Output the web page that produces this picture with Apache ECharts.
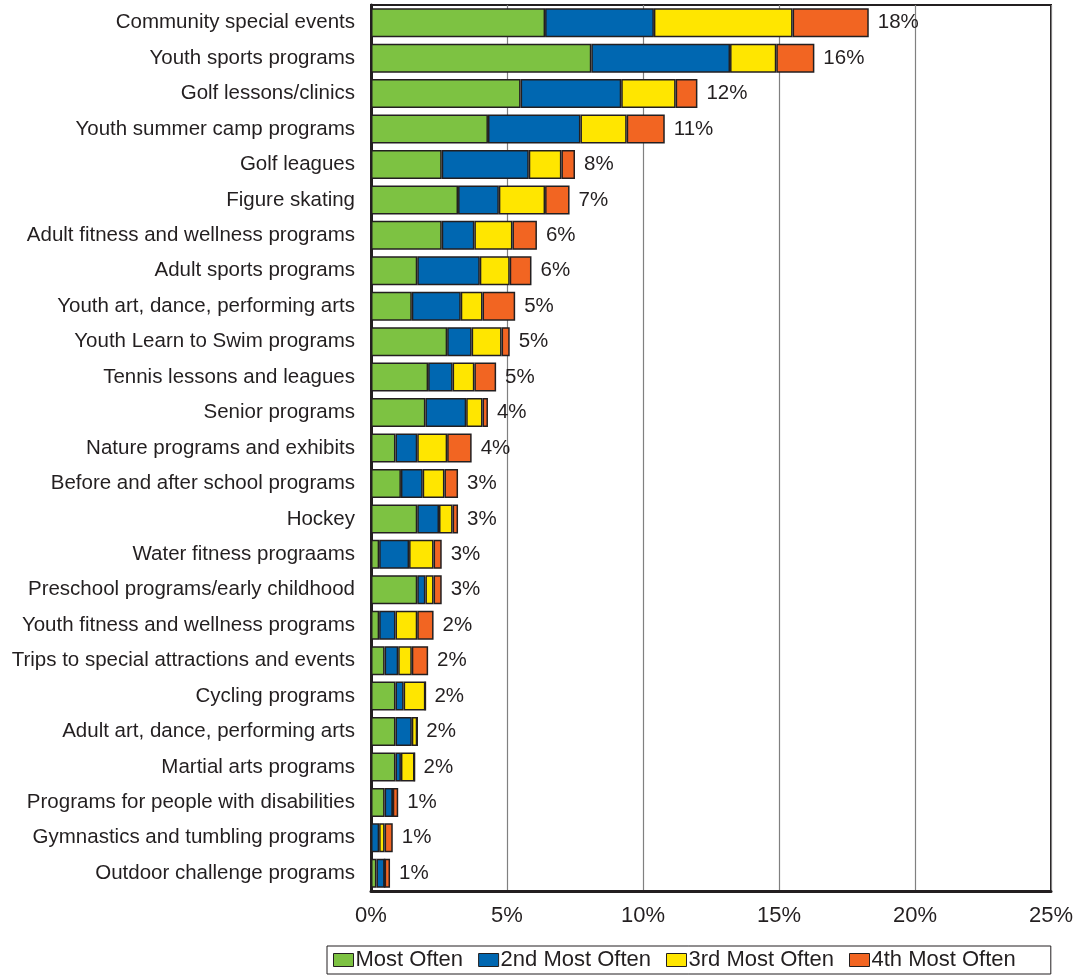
<!DOCTYPE html>
<html>
<head>
<meta charset="utf-8">
<script src="https://cdn.jsdelivr.net/npm/echarts@6/dist/echarts.min.js"></script>
<style>
html,body{margin:0;padding:0;background:#fff;}
#chart{width:1079px;height:980px;}
</style>
</head>
<body>
<div id="chart"></div>
<script>
const categories = [
  "Community special events",
  "Youth sports programs",
  "Golf lessons/clinics",
  "Youth summer camp programs",
  "Golf leagues",
  "Figure skating",
  "Adult fitness and wellness programs",
  "Adult sports programs",
  "Youth art, dance, performing arts",
  "Youth Learn to Swim programs",
  "Tennis lessons and leagues",
  "Senior programs",
  "Nature programs and exhibits",
  "Before and after school programs",
  "Hockey",
  "Water fitness prograams",
  "Preschool programs/early childhood",
  "Youth fitness and wellness programs",
  "Trips to special attractions and events",
  "Cycling programs",
  "Adult art, dance, performing arts",
  "Martial arts programs",
  "Programs for people with disabilities",
  "Gymnastics and tumbling programs",
  "Outdoor challenge programs"
];
const mostOften   = [6.4, 8.1, 5.5, 4.3, 2.6, 3.2, 2.6, 1.7, 1.5, 2.8, 2.1, 2.0, 0.9, 1.1, 1.7, 0.3, 1.7, 0.3, 0.5, 0.9, 0.9, 0.9, 0.5, 0.0, 0.2];
const second      = [4.0, 5.1, 3.7, 3.4, 3.2, 1.5, 1.2, 2.3, 1.8, 0.9, 0.9, 1.5, 0.8, 0.8, 0.8, 1.1, 0.3, 0.6, 0.5, 0.3, 0.6, 0.2, 0.3, 0.3, 0.3];
const third       = [5.1, 1.7, 2.0, 1.7, 1.2, 1.7, 1.4, 1.1, 0.8, 1.1, 0.8, 0.6, 1.1, 0.8, 0.5, 0.9, 0.3, 0.8, 0.5, 0.8, 0.2, 0.5, 0.0, 0.2, 0.0];
const fourth      = [2.8, 1.4, 0.8, 1.4, 0.5, 0.9, 0.9, 0.8, 1.2, 0.3, 0.8, 0.2, 0.9, 0.5, 0.2, 0.3, 0.3, 0.6, 0.6, 0.0, 0.0, 0.0, 0.2, 0.3, 0.2];
const totalLabels = ["18%","16%","12%","11%","8%","7%","6%","6%","5%","5%","5%","4%","4%","3%","3%","3%","3%","2%","2%","2%","2%","2%","1%","1%","1%"];
const seriesNames = ["Most Often","2nd Most Often","3rd Most Often","4th Most Often"];
const xTicks = [0, 5, 10, 15, 20, 25];

const colors = ["#7dc242", "#0067b1", "#ffe600", "#f26522"];
const seriesData = [mostOften, second, third, fourth];
const FONT = 'Liberation Sans, Arial, sans-serif';

const chart = echarts.init(document.getElementById('chart'));
const series = seriesData.map((d, i) => ({
  name: seriesNames[i],
  type: 'bar',
  stack: 'all',
  data: d,
  barWidth: 29,
  itemStyle: { color: colors[i], borderColor: '#231f20', borderWidth: 1.5 },
  emphasis: { disabled: true }
}));
series.push({
  name: 'total',
  type: 'bar',
  stack: 'all',
  data: categories.map(() => 0),
  barWidth: 29,
  itemStyle: { color: 'transparent', borderWidth: 0 },
  label: {
    show: true,
    position: 'right',
    distance: 9,
    formatter: p => totalLabels[p.dataIndex],
    fontFamily: FONT,
    fontSize: 20.5,
    color: '#231f20'
  },
  emphasis: { disabled: true }
});

chart.setOption({
  animation: false,
  backgroundColor: '#fff',
  grid: {
    left: 371, right: 28, top: 5, bottom: 89,
    show: true, borderColor: '#231f20', borderWidth: 2
  },
  legend: {
    data: seriesNames,
    left: 327, top: 946,
    itemWidth: 20, itemHeight: 13, itemGap: 15,
    padding: [3, 35, 3, 6],
    borderColor: '#231f20', borderWidth: 1,
    textStyle: { fontFamily: FONT, fontSize: 22, color: '#231f20', padding: [0, 0, 0, -3] },
    icon: 'rect',
    itemStyle: { borderColor: '#231f20', borderWidth: 1 }
  },
  xAxis: {
    type: 'value',
    min: xTicks[0], max: xTicks[xTicks.length - 1], interval: 5,
    axisLine: { show: true, lineStyle: { color: '#231f20', width: 3 } },
    axisTick: { show: false },
    splitLine: { show: true, lineStyle: { color: '#808080', width: 1.2 } },
    axisLabel: {
      formatter: v => v + '%',
      fontFamily: FONT,
      fontSize: 22, color: '#231f20', margin: 14
    }
  },
  yAxis: {
    type: 'category',
    data: categories,
    inverse: true,
    axisLine: { show: true, lineStyle: { color: '#231f20', width: 3 } },
    axisTick: { show: false },
    axisLabel: {
      fontFamily: FONT,
      fontSize: 20.5, color: '#231f20', margin: 16
    }
  },
  series: series
});
</script>
</body>
</html>
